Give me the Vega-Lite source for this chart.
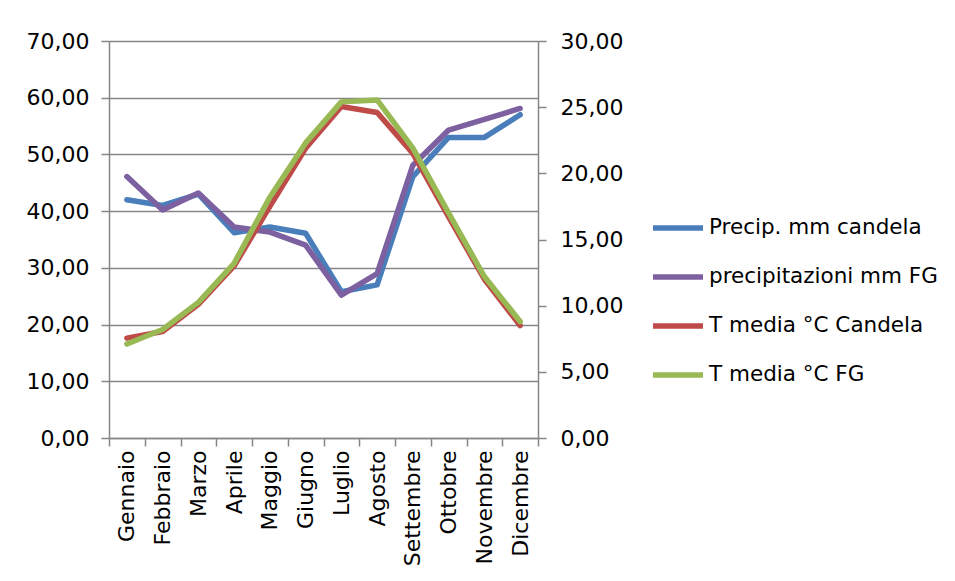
{
  "$schema": "https://vega.github.io/schema/vega-lite/v6.json",
  "width": 429,
  "height": 397,
  "autosize": {"type": "none"},
  "padding": {"left": 109, "top": 41, "right": 417, "bottom": 143},
  "background": "white",
  "config": {
    "font": "DejaVu Sans",
    "view": {"stroke": null},
    "axis": {"labelFont": "DejaVu Sans", "labelFontSize": 22, "labelColor": "#000000", "domainColor": "#868686", "domainWidth": 1.5, "tickColor": "#868686", "tickWidth": 1.5, "tickSize": 8, "gridColor": "#868686", "gridWidth": 1.5, "title": null},
    "legend": {"labelFont": "DejaVu Sans", "labelFontSize": 21.5, "labelColor": "#000000"}
  },
  "data": {"values": [
    {"mese": "Gennaio", "serie": "Precip. mm candela", "valore": 42.0},
    {"mese": "Febbraio", "serie": "Precip. mm candela", "valore": 41.0},
    {"mese": "Marzo", "serie": "Precip. mm candela", "valore": 43.0},
    {"mese": "Aprile", "serie": "Precip. mm candela", "valore": 36.2},
    {"mese": "Maggio", "serie": "Precip. mm candela", "valore": 37.2},
    {"mese": "Giugno", "serie": "Precip. mm candela", "valore": 36.1},
    {"mese": "Luglio", "serie": "Precip. mm candela", "valore": 25.8},
    {"mese": "Agosto", "serie": "Precip. mm candela", "valore": 27.0},
    {"mese": "Settembre", "serie": "Precip. mm candela", "valore": 46.1},
    {"mese": "Ottobre", "serie": "Precip. mm candela", "valore": 53.0},
    {"mese": "Novembre", "serie": "Precip. mm candela", "valore": 53.0},
    {"mese": "Dicembre", "serie": "Precip. mm candela", "valore": 57.0},
    {"mese": "Gennaio", "serie": "precipitazioni mm FG", "valore": 46.1},
    {"mese": "Febbraio", "serie": "precipitazioni mm FG", "valore": 40.2},
    {"mese": "Marzo", "serie": "precipitazioni mm FG", "valore": 43.2},
    {"mese": "Aprile", "serie": "precipitazioni mm FG", "valore": 37.2},
    {"mese": "Maggio", "serie": "precipitazioni mm FG", "valore": 36.3},
    {"mese": "Giugno", "serie": "precipitazioni mm FG", "valore": 34.0},
    {"mese": "Luglio", "serie": "precipitazioni mm FG", "valore": 25.2},
    {"mese": "Agosto", "serie": "precipitazioni mm FG", "valore": 29.0},
    {"mese": "Settembre", "serie": "precipitazioni mm FG", "valore": 48.1},
    {"mese": "Ottobre", "serie": "precipitazioni mm FG", "valore": 54.3},
    {"mese": "Novembre", "serie": "precipitazioni mm FG", "valore": 56.2},
    {"mese": "Dicembre", "serie": "precipitazioni mm FG", "valore": 58.1},
    {"mese": "Gennaio", "serie": "T media °C Candela", "valore": 7.55},
    {"mese": "Febbraio", "serie": "T media °C Candela", "valore": 8.05},
    {"mese": "Marzo", "serie": "T media °C Candela", "valore": 10.1},
    {"mese": "Aprile", "serie": "T media °C Candela", "valore": 13.0},
    {"mese": "Maggio", "serie": "T media °C Candela", "valore": 17.5},
    {"mese": "Giugno", "serie": "T media °C Candela", "valore": 21.9},
    {"mese": "Luglio", "serie": "T media °C Candela", "valore": 25.05},
    {"mese": "Agosto", "serie": "T media °C Candela", "valore": 24.6},
    {"mese": "Settembre", "serie": "T media °C Candela", "valore": 21.5},
    {"mese": "Ottobre", "serie": "T media °C Candela", "valore": 16.7},
    {"mese": "Novembre", "serie": "T media °C Candela", "valore": 12.0},
    {"mese": "Dicembre", "serie": "T media °C Candela", "valore": 8.5},
    {"mese": "Gennaio", "serie": "T media °C FG", "valore": 7.1},
    {"mese": "Febbraio", "serie": "T media °C FG", "valore": 8.2},
    {"mese": "Marzo", "serie": "T media °C FG", "valore": 10.25},
    {"mese": "Aprile", "serie": "T media °C FG", "valore": 13.2},
    {"mese": "Maggio", "serie": "T media °C FG", "valore": 18.2},
    {"mese": "Giugno", "serie": "T media °C FG", "valore": 22.3},
    {"mese": "Luglio", "serie": "T media °C FG", "valore": 25.4},
    {"mese": "Agosto", "serie": "T media °C FG", "valore": 25.55},
    {"mese": "Settembre", "serie": "T media °C FG", "valore": 21.9},
    {"mese": "Ottobre", "serie": "T media °C FG", "valore": 17.0},
    {"mese": "Novembre", "serie": "T media °C FG", "valore": 12.2},
    {"mese": "Dicembre", "serie": "T media °C FG", "valore": 8.8}
  ]},
  "encoding": {
    "x": {
      "field": "mese", "type": "nominal", "sort": null,
      "scale": {"paddingInner": 0, "paddingOuter": 0},
      "axis": {"labelAngle": -90, "tickBand": "extent", "labelPadding": 4, "grid": false}
    },
    "color": {
      "field": "serie", "type": "nominal", "sort": null,
      "scale": {
        "domain": ["Precip. mm candela", "precipitazioni mm FG", "T media °C Candela", "T media °C FG"],
        "range": ["#4A7EBB", "#7D60A0", "#BE4B48", "#98B954"]
      },
      "legend": {
        "title": null, "orient": "none", "legendX": 541, "legendY": 159,
        "symbolType": "stroke", "symbolSize": 2500, "symbolStrokeWidth": 5.5,
        "rowPadding": 10, "labelOffset": 3, "labelLimit": 400
      }
    }
  },
  "layer": [
    {
      "transform": [{"filter": "indexof(datum.serie, 'T media') < 0"}],
      "mark": {"type": "line", "strokeWidth": 5.5, "strokeCap": "round", "strokeJoin": "round"},
      "encoding": {
        "y": {
          "field": "valore", "type": "quantitative",
          "scale": {"domain": [0, 70], "nice": false},
          "axis": {"orient": "left", "values": [0, 10, 20, 30, 40, 50, 60, 70], "grid": true, "labelPadding": 12, "labelExpr": "replace(format(datum.value, '.2f'), '.', ',')"}
        }
      }
    },
    {
      "transform": [{"filter": "indexof(datum.serie, 'T media') >= 0"}],
      "mark": {"type": "line", "strokeWidth": 5.5, "strokeCap": "round", "strokeJoin": "round"},
      "encoding": {
        "y": {
          "field": "valore", "type": "quantitative",
          "scale": {"domain": [0, 30], "nice": false},
          "axis": {"orient": "right", "values": [0, 5, 10, 15, 20, 25, 30], "grid": false, "labelPadding": 14, "labelExpr": "replace(format(datum.value, '.2f'), '.', ',')"}
        }
      }
    }
  ],
  "resolve": {"scale": {"y": "independent"}}
}
